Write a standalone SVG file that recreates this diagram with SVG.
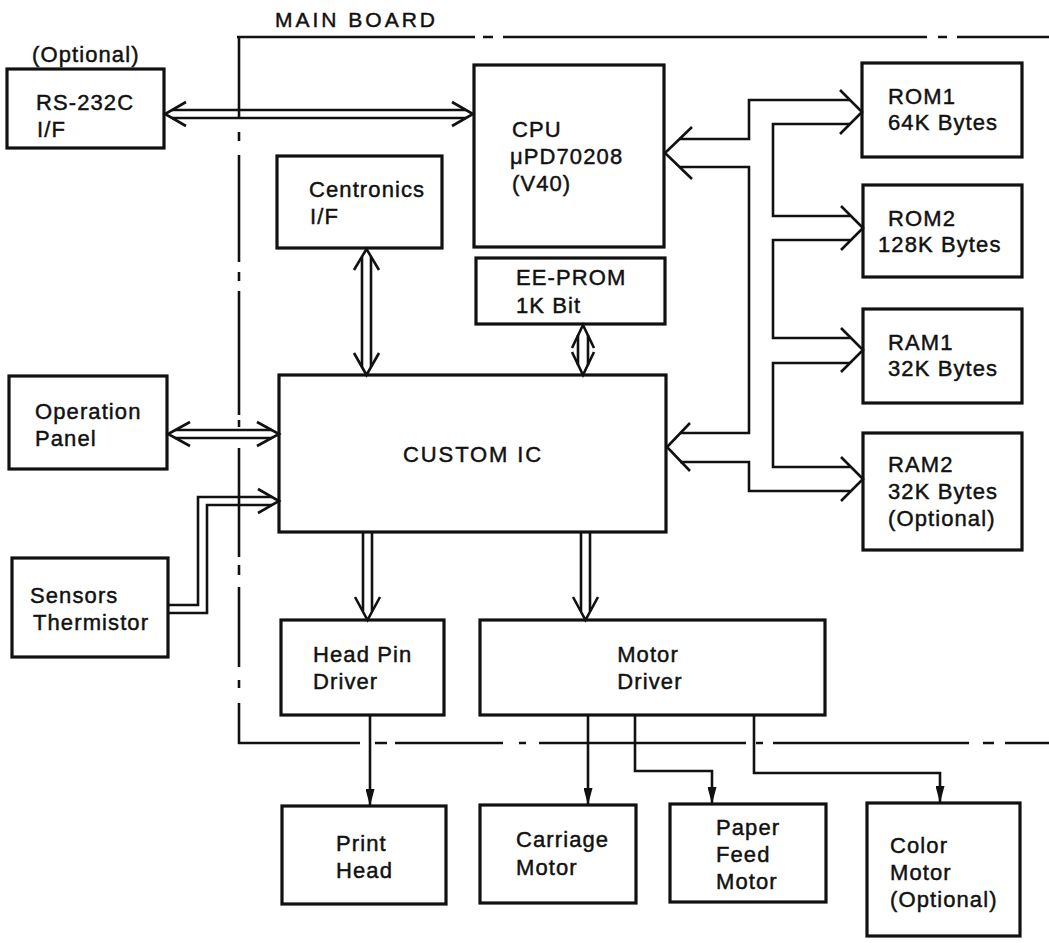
<svg xmlns="http://www.w3.org/2000/svg" width="1049" height="943" viewBox="0 0 1049 943">
<style>
.box{fill:none;stroke:#111;stroke-width:3.2}
.ln{fill:none;stroke:#111;stroke-width:2.6;stroke-linejoin:miter;stroke-linecap:butt}
.ah{fill:none;stroke:#111;stroke-width:2.6;stroke-linejoin:miter}
.bd{fill:none;stroke:#111;stroke-width:2.6}
text{font-family:"Liberation Sans",Arial,sans-serif;font-size:22px;fill:#111;stroke:#111;stroke-width:0.45;letter-spacing:1.1px}
</style>
<defs>
<marker id="tri" markerUnits="userSpaceOnUse" markerWidth="17" markerHeight="9" viewBox="0 0 17 9" refX="17" refY="4.5" orient="auto">
<path d="M0,0 L17,4.5 L0,9 Z" fill="#111"/>
</marker>
</defs>
<rect width="1049" height="943" fill="#fff"/>

<g id="main-board">
<path class="bd" d="M237 37H475M483 37H493M503 37H927M938 37H947M957 37H1049"/>
<path class="bd" d="M239 36V118M239 132V141M239 155V262M239 272V281M239 291V415M239 420V427M239 448V557M239 565V575M239 587V667M239 680V688M239 703V744"/>
<path class="bd" d="M238 743H360M375 743H387M395 743H503M519 743H526M539 743H746M756 743H763M773 743H969M983 743H994M1005 743H1049"/>
<text x="275" y="27" style="font-size:21px;letter-spacing:3px">MAIN BOARD</text>
</g>

<g id="rs232c">
<text x="32" y="62">(Optional)</text>
<rect class="box" x="7" y="69" width="157" height="79"/>
<text x="36" y="110">RS-232C</text>
<text x="37" y="137">I/F</text>
</g>

<g id="cpu">
<rect class="box" x="474" y="65" width="190" height="182"/>
<text x="512" y="137">CPU</text>
<text x="510" y="164">μPD70208</text>
<text x="512" y="191">(V40)</text>
</g>

<g id="eeprom">
<rect class="box" x="476" y="258" width="189" height="66"/>
<text x="516" y="285">EE-PROM</text>
<text x="516" y="313">1K Bit</text>
</g>

<g id="centronics">
<rect class="box" x="277" y="156" width="165" height="92"/>
<text x="309" y="197">Centronics</text>
<text x="310" y="224">I/F</text>
</g>

<g id="operation-panel">
<rect class="box" x="9" y="376" width="158" height="93"/>
<text x="35" y="419">Operation</text>
<text x="35" y="446">Panel</text>
</g>

<g id="custom-ic">
<rect class="box" x="279" y="375" width="387" height="157"/>
<text x="403" y="462" style="letter-spacing:1.9px">CUSTOM IC</text>
</g>

<g id="sensors">
<rect class="box" x="12" y="558" width="156" height="99"/>
<text x="30" y="603">Sensors</text>
<text x="33" y="630">Thermistor</text>
</g>

<g id="head-pin-driver">
<rect class="box" x="281" y="620" width="163" height="95"/>
<text x="313" y="662">Head Pin</text>
<text x="313" y="689">Driver</text>
</g>

<g id="motor-driver">
<rect class="box" x="480" y="620" width="345" height="95"/>
<text x="648" y="662" text-anchor="middle">Motor</text>
<text x="650" y="689" text-anchor="middle">Driver</text>
</g>

<g id="print-head">
<rect class="box" x="282" y="806" width="164" height="98"/>
<text x="336" y="851">Print</text>
<text x="336" y="878">Head</text>
</g>

<g id="carriage-motor">
<rect class="box" x="480" y="805" width="156" height="98"/>
<text x="516" y="847">Carriage</text>
<text x="516" y="875">Motor</text>
</g>

<g id="paper-feed-motor">
<rect class="box" x="670" y="804" width="156" height="98"/>
<text x="716" y="835">Paper</text>
<text x="716" y="862">Feed</text>
<text x="716" y="889">Motor</text>
</g>

<g id="color-motor">
<rect class="box" x="867" y="803" width="153" height="133"/>
<text x="890" y="853">Color</text>
<text x="890" y="880">Motor</text>
<text x="890" y="907">(Optional)</text>
</g>

<g id="rom1">
<rect class="box" x="862" y="63" width="160" height="94"/>
<text x="888" y="104">ROM1</text>
<text x="888" y="130">64K Bytes</text>
</g>

<g id="rom2">
<rect class="box" x="863" y="185" width="159" height="92"/>
<text x="888" y="226">ROM2</text>
<text x="878" y="252">128K Bytes</text>
</g>

<g id="ram1">
<rect class="box" x="863" y="309" width="159" height="94"/>
<text x="888" y="350">RAM1</text>
<text x="888" y="376">32K Bytes</text>
</g>

<g id="ram2">
<rect class="box" x="863" y="433" width="159" height="117"/>
<text x="888" y="472">RAM2</text>
<text x="888" y="499">32K Bytes</text>
<text x="888" y="526">(Optional)</text>
</g>

<g id="connectors">
<!-- RS-232C <-> CPU -->
<path class="ln" d="M172 110H466M172 118H466"/>
<path class="ah" d="M186 102L165 114L186 126M452 102L473 114L452 126"/>
<!-- Operation Panel <-> Custom IC -->
<path class="ln" d="M175 430H272M175 438H272"/>
<path class="ah" d="M190 422L168 434L190 446M257 422L279 434L257 446"/>
<!-- Sensors -> Custom IC -->
<path class="ln" d="M168 605H198V497H272M168 613H207V505H272"/>
<path class="ah" d="M258 489L279 501L258 513"/>
<!-- Centronics <-> Custom IC -->
<path class="ln" d="M362 257V367M371 257V367"/>
<path class="ah" d="M354 270L366.5 249L379 270M354 353L366.5 375L379 353"/>
<!-- EE-PROM <-> Custom IC -->
<path class="ln" d="M578 335V365M588 335V365"/>
<path class="ah" d="M572 348L583 325L594 348M572 352L583 375L594 352"/>
<!-- Custom IC -> Head Pin Driver -->
<path class="ln" d="M363 532V611M372 532V611"/>
<path class="ah" d="M355 597L367.5 620L380 597"/>
<!-- Custom IC -> Motor Driver -->
<path class="ln" d="M581 532V611M590 532V611"/>
<path class="ah" d="M573 597L585.5 620L598 597"/>
<!-- CPU / Custom IC memory bus -->
<path class="ah" d="M692 127L665 153L692 179"/>
<path class="ah" d="M690 423L667 447L690 471"/>
<path class="ln" d="M679 139H749V100H850"/>
<path class="ln" d="M680 167H749V433H680"/>
<path class="ln" d="M680 462H749V491H850"/>
<path class="ln" d="M850 124H773V216H850"/>
<path class="ln" d="M850 240H773V338H850"/>
<path class="ln" d="M850 363H773V467H850"/>
<path class="ah" d="M840 90L862 112L840 134"/>
<path class="ah" d="M841 206L863 228L841 250"/>
<path class="ah" d="M841 328L863 350L841 372"/>
<path class="ah" d="M841 457L863 479L841 501"/>
<!-- Drivers -> motors/head -->
<path class="ln" d="M370 715V806" marker-end="url(#tri)"/>
<path class="ln" d="M588 715V805" marker-end="url(#tri)"/>
<path class="ln" d="M635 715V771H712V804" marker-end="url(#tri)"/>
<path class="ln" d="M754 715V773H940V803" marker-end="url(#tri)"/>
</g>
</svg>
